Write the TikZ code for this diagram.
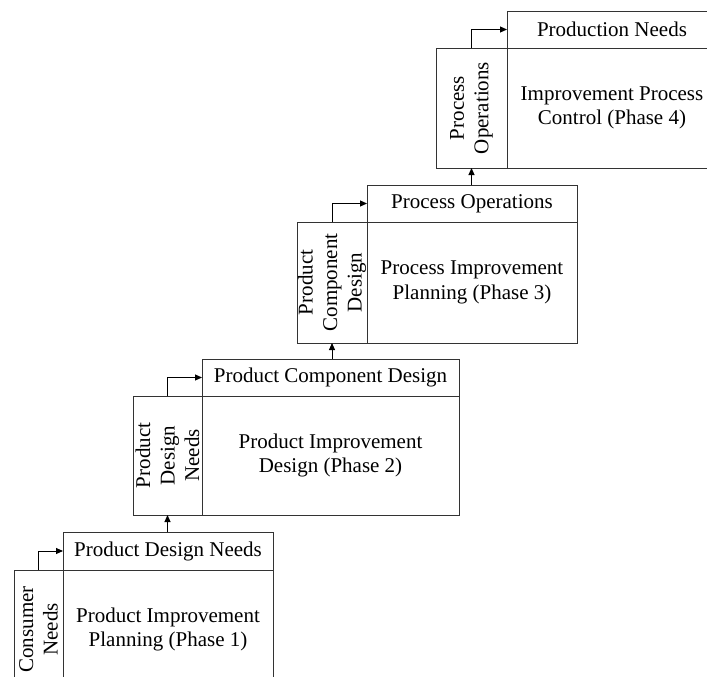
\documentclass[tikz,border=0pt]{standalone}
\usepackage{fontspec}
\setmainfont{Liberation Serif}
\usetikzlibrary{arrows.meta}
\tikzset{
  box/.style={draw=black!80, line width=0.9pt, inner sep=0pt, outer sep=0pt, align=center,
    font=\fontsize{21}{24.5}\selectfont},
  vtext/.style={rotate=90, align=center, inner sep=0pt, font=\fontsize{21}{24.5}\selectfont},
  arr/.style={draw=black, line width=0.9pt, -{Triangle[length=7pt,width=6pt]}}
}
\begin{document}
\begin{tikzpicture}[x=1pt,y=-1pt]
\useasboundingbox (0,0) rectangle (707,677);
\clip (0,0) rectangle (707,677);
% Block 1
\node[box, minimum width=49pt, minimum height=119pt] (n1) at (38.5,629.5) {};
\node[vtext] (t1) at (n1.center) {Consumer\\Needs};
\node[box, minimum width=210pt, minimum height=38pt] (h1) at (168,551) {Product Design Needs};
\node[box, minimum width=210pt, minimum height=119pt] (m1) at (168,629.5) {Product Improvement\\Planning (Phase 1)};
% Block 2
\node[box, minimum width=69pt, minimum height=119pt] (n2) at (167.5,455.5) {};
\node[vtext] (t2) at (n2.center) {Product\\Design\\Needs};
\node[box, minimum width=257pt, minimum height=37pt] (h2) at (330.5,377.5) {Product Component Design};
\node[box, minimum width=257pt, minimum height=119pt] (m2) at (330.5,455.5) {Product Improvement\\Design (Phase 2)};
% Block 3
\node[box, minimum width=70pt, minimum height=121pt] (n3) at (332,282.5) {};
\node[vtext] (t3) at (n3.center) {Product\\Component\\Design};
\node[box, minimum width=210pt, minimum height=37pt] (h3) at (472,203.5) {Process Operations};
\node[box, minimum width=210pt, minimum height=121pt] (m3) at (472,282.5) {Process Improvement\\Planning (Phase 3)};
% Block 4
\node[box, minimum width=71pt, minimum height=120pt] (n4) at (471.5,108) {};
\node[vtext] (t4) at (n4.center) {Process\\Operations};
\node[box, minimum width=210pt, minimum height=37pt] (h4) at (612,29.5) {Production Needs};
\node[box, minimum width=210pt, minimum height=120pt] (m4) at (612,108) {Improvement Process\\Control (Phase 4)};
% Connectors
\draw[arr] (n1.north) |- (h1.west);
\draw[arr] (n2.north) |- (h2.west);
\draw[arr] (n3.north) |- (h3.west);
\draw[arr] (n4.north) |- (h4.west);
\draw[arr] (h1.north -| n2.south) -- (n2.south);
\draw[arr] (h2.north -| n3.south) -- (n3.south);
\draw[arr] (h3.north -| n4.south) -- (n4.south);
\end{tikzpicture}
\end{document}
